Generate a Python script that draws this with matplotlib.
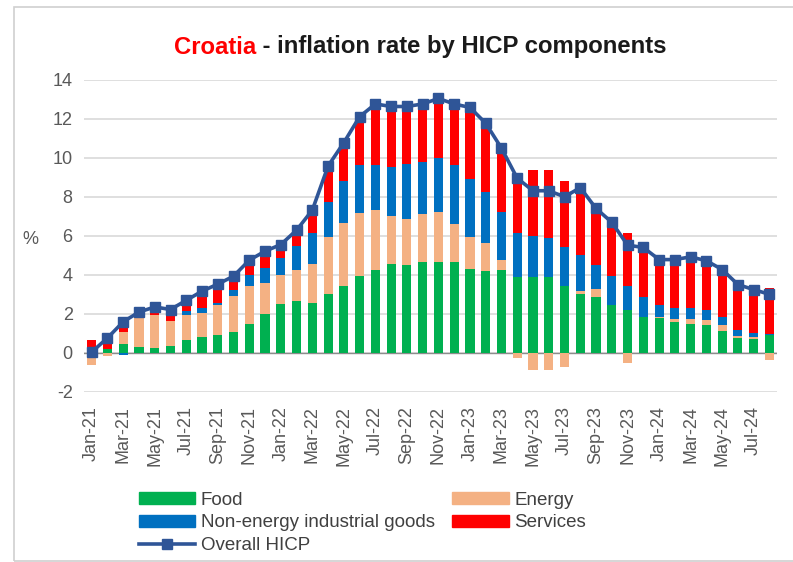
import numpy as np
import matplotlib
matplotlib.use("Agg")
import matplotlib.pyplot as plt
import matplotlib.patches as patches
from matplotlib.lines import Line2D

plt.rcParams['font.family'] = ['Liberation Sans', 'DejaVu Sans']
plt.rcParams['axes.unicode_minus'] = False

mon = ['Jan', 'Feb', 'Mar', 'Apr', 'May', 'Jun', 'Jul', 'Aug', 'Sep', 'Oct', 'Nov', 'Dec']
months = [m + '-' + y for y in ['21', '22', '23', '24'] for m in mon][:44]

food = [0.0, 0.2, 0.48, 0.3, 0.27, 0.36, 0.68, 0.82, 0.9, 1.08, 1.47, 2.02,
        2.5, 2.65, 2.57, 3.05, 3.44, 3.94, 4.25, 4.55, 4.5, 4.67, 4.67, 4.67,
        4.3, 4.21, 4.28, 3.9, 3.9, 3.9, 3.42, 3.0, 2.88, 2.48, 2.23, 1.85,
        1.8, 1.59, 1.47, 1.42, 1.11, 0.79, 0.74, 0.9]
energy = [-0.63, -0.17, 0.6, 1.55, 1.66, 1.27, 1.25, 1.23, 1.55, 1.83, 1.98, 1.58,
          1.49, 1.63, 1.98, 2.91, 3.25, 3.25, 3.08, 2.47, 2.35, 2.45, 2.55, 1.92,
          1.66, 1.44, 0.51, -0.26, -0.89, -0.89, -0.72, 0.17, 0.38, 0.0, -0.51, 0.02,
          0.02, 0.17, 0.29, 0.26, 0.34, 0.07, 0.08, -0.38]
neig = [0.0, 0.0, -0.12, 0.0, 0.0, 0.0, 0.22, 0.27, 0.1, 0.3, 0.53, 0.78,
        0.9, 1.2, 1.58, 1.8, 2.14, 2.43, 2.29, 2.53, 2.84, 2.67, 2.79, 3.03,
        2.95, 2.62, 2.45, 2.26, 2.11, 2.02, 1.99, 1.85, 1.25, 1.46, 1.2, 0.99,
        0.65, 0.57, 0.57, 0.51, 0.39, 0.34, 0.2, 0.05]
services = [0.65, 0.3, 0.25, 0.1, 0.25, 0.4, 0.3, 0.55, 0.7, 0.5, 0.5, 0.52,
            0.4, 0.56, 0.94, 1.63, 1.92, 2.33, 2.98, 2.95, 2.81, 2.84, 3.0, 3.01,
            3.56, 3.34, 3.0, 2.71, 3.37, 3.46, 3.42, 3.4, 2.74, 2.71, 2.74, 2.43,
            2.31, 2.43, 2.52, 2.4, 2.23, 2.1, 2.1, 2.38]
hicp = [0.05, 0.77, 1.6, 2.1, 2.36, 2.23, 2.7, 3.17, 3.53, 3.94, 4.76, 5.22,
        5.56, 6.3, 7.33, 9.59, 10.79, 12.12, 12.77, 12.64, 12.64, 12.77, 13.05, 12.77,
        12.59, 11.78, 10.5, 8.96, 8.32, 8.32, 8.01, 8.48, 7.41, 6.7, 5.53, 5.41,
        4.79, 4.79, 4.93, 4.73, 4.28, 3.51, 3.25, 3.01]

series = [('Food', food, '#00B050'),
          ('Energy', energy, '#F4B183'),
          ('Non-energy industrial goods', neig, '#0070C0'),
          ('Services', services, '#FF0000')]

fig = plt.figure(figsize=(7.93, 5.62), dpi=100)
ax = fig.add_axes([0.1057, 0.3025, 0.8745, 0.5552])

x = np.arange(len(months))
pos = np.zeros(len(x))
neg = np.zeros(len(x))
handles = {}
for name, vals, col in series:
    v = np.array(vals)
    bottom = np.where(v >= 0, pos, neg)
    ax.bar(x, v, 0.58, bottom=bottom, color=col, zorder=2)
    pos += np.where(v >= 0, v, 0)
    neg += np.where(v < 0, v, 0)
    handles[name] = patches.Patch(color=col, label=name)

ax.plot(x, hicp, color='#2F5597', lw=2.6, marker='s', ms=7, zorder=3)
handles['Overall HICP'] = Line2D([], [], color='#2F5597', lw=2.6, marker='s', ms=7,
                                 label='Overall HICP')

ax.axhline(0, color='#8C8C8C', lw=1, zorder=1)
ax.set_xlim(-0.5, len(x) - 0.5)
ax.set_ylim(-2, 14)
ax.set_yticks(np.arange(-2, 15, 2))
ax.yaxis.grid(True, color='#D9D9D9', lw=1.2, zorder=0)
ax.set_axisbelow(True)
for s in ax.spines.values():
    s.set_visible(False)
ax.set_xticks(x[::2])
ax.set_xticklabels(months[::2], rotation=90, fontsize=13, color='#595959')
ax.tick_params(axis='both', length=0, pad=8, labelsize=13, labelcolor='#595959')
ax.tick_params(axis='x', pad=10)
ax.set_ylabel('%', rotation=0, fontsize=13, color='#595959', va='center', ha='center')
ax.yaxis.set_label_coords(-0.077, 0.49)

order = ['Food', 'Non-energy industrial goods', 'Overall HICP', 'Energy', 'Services']
fig.legend([handles[k] for k in order], order, ncol=2, frameon=False,
           loc='upper left', bbox_to_anchor=(0.163, 0.142), fontsize=13.5,
           handlelength=3.0, handleheight=0.6, handletextpad=0.3,
           columnspacing=0.95, labelspacing=0.3, borderpad=0,
           labelcolor='#404040')

# two-colour title
tfont = dict(fontsize=17.2, fontweight='bold', family=['Liberation Sans Narrow', 'Liberation Sans'])
fig.canvas.draw()
r = fig.canvas.get_renderer()
t1 = fig.text(0, 0, 'Croatia', color='#FF0000', **tfont)
t2 = fig.text(0, 0, ' - inflation rate by HICP components', color='#1A1A1A', **tfont)
w1 = t1.get_window_extent(r).width
w2 = t2.get_window_extent(r).width
x0 = 420 - (w1 + w2) / 2
ty = 1 - 47 / 562
t1.set_position((x0 / 793, ty))
t1.set_va('center')
t2.set_position(((x0 + w1) / 793, ty))
t2.set_va('center')

# thin border of the chart area
fig.add_artist(patches.Rectangle((14 / 793, 1 / 562), 1.0, 554 / 562, fill=False,
                                 edgecolor='#D0D0D0', lw=1.2, transform=fig.transFigure))

fig.savefig('out.png', dpi=100)
